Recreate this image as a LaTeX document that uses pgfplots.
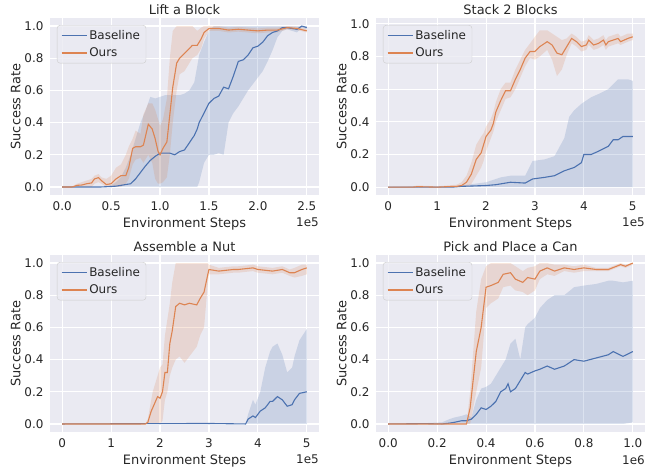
\documentclass[border=0pt]{standalone}
\usepackage{fontspec}
\setmainfont{DejaVu Sans}
\usepackage{pgfplots}
\usepackage{pgfplotstable}
\pgfplotsset{compat=1.18}
\usepgfplotslibrary{fillbetween}

\definecolor{sblue}{HTML}{4C72B0}
\definecolor{sorange}{HTML}{DD8452}
\definecolor{bg}{HTML}{EAEAF2}
\definecolor{txt}{HTML}{262626}

\newcommand{\tickfont}{\fontsize{12}{14}\selectfont}
\newcommand{\labfont}{\fontsize{13}{15}\selectfont}

% lift a block, x in 1e5 steps
\pgfplotstableread{
x m lo hi
0 0 0 0
0.1 0 0 0
0.2 0 0 0
0.3 0 0 0
0.4 0 0 0
0.5 0.003 0 0.01
0.55 0.005 0 0.03
0.6 0.01 0 0.06
0.65 0.015 0 0.12
0.7 0.02 0 0.2
0.75 0.05 0 0.3
0.8 0.09 0 0.4
0.85 0.13 0 0.47
0.9 0.165 0 0.56
0.95 0.19 0 0.55
1.0 0.21 0 0.56
1.05 0.21 0 0.57
1.1 0.21 0 0.57
1.15 0.20 0 0.57
1.2 0.22 0 0.57
1.25 0.23 0 0.58
1.3 0.275 0 0.6
1.35 0.32 0 0.65
1.38 0.36 0 0.75
1.4 0.40 0.03 0.82
1.45 0.46 0.15 0.9
1.5 0.52 0.2 0.97
1.55 0.55 0.2 1.0
1.6 0.565 0.21 1.0
1.65 0.62 0.2 1.0
1.7 0.61 0.4 1.0
1.75 0.69 0.46 1.0
1.8 0.78 0.5 1.0
1.85 0.79 0.55 1.0
1.9 0.82 0.6 1.0
1.95 0.865 0.64 1.0
2.0 0.875 0.68 1.0
2.05 0.90 0.72 1.0
2.1 0.94 0.78 1.0
2.15 0.96 0.85 1.0
2.2 0.97 0.93 1.0
2.25 0.99 0.97 1.0
2.3 0.99 0.98 1.0
2.35 0.985 0.97 1.0
2.4 0.98 0.96 1.0
2.45 1.0 0.99 1.0
2.5 0.99 0.98 1.0
}\liftb
\pgfplotstableread{
x m lo hi
0 0 0 0
0.1 0 0 0
0.12 0.003 0 0.01
0.15 0.01 0 0.02
0.2 0.012 0 0.03
0.25 0.02 0 0.04
0.3 0.025 0 0.05
0.33 0.05 0.02 0.07
0.37 0.058 0.03 0.08
0.4 0.04 0.02 0.06
0.45 0.015 0 0.05
0.5 0.02 0 0.07
0.55 0.05 0 0.12
0.6 0.07 0 0.14
0.65 0.07 0.02 0.2
0.68 0.12 0.05 0.25
0.72 0.24 0.14 0.3
0.75 0.25 0.17 0.35
0.8 0.25 0.18 0.33
0.83 0.26 0.15 0.45
0.88 0.39 0.2 0.52
0.92 0.36 0.15 0.52
0.95 0.30 0.05 0.48
0.98 0.22 0.02 0.42
1.0 0.20 0.02 0.38
1.03 0.24 0.03 0.42
1.07 0.28 0.06 0.55
1.1 0.45 0.2 0.8
1.13 0.62 0.4 0.97
1.17 0.77 0.6 1.0
1.2 0.80 0.7 1.0
1.25 0.83 0.72 1.0
1.3 0.86 0.77 1.0
1.33 0.88 0.8 1.0
1.38 0.88 0.82 0.97
1.42 0.92 0.86 0.99
1.45 0.96 0.92 1.0
1.5 0.985 0.97 1.0
1.6 0.985 0.97 1.0
1.7 0.975 0.96 0.99
1.8 0.98 0.965 0.995
1.9 0.975 0.96 0.99
2.0 0.97 0.955 0.985
2.1 0.975 0.96 0.99
2.2 0.975 0.96 0.99
2.3 0.99 0.98 1.0
2.4 0.985 0.975 0.995
2.5 0.97 0.96 0.98
}\lifto

% stack 2 blocks, x in 1e5 steps
\pgfplotstableread{
x m lo hi
0 0 0 0
1.3 0 0 0
1.5 0.005 0 0.01
2.0 0.01 0 0.03
2.2 0.015 0 0.05
2.3 0.02 0 0.06
2.5 0.03 0 0.07
2.8 0.025 0 0.07
2.95 0.05 0 0.16
3.2 0.06 0 0.17
3.4 0.07 0 0.19
3.6 0.10 0 0.3
3.7 0.11 0 0.43
3.8 0.12 0 0.47
3.95 0.15 0 0.51
4.0 0.20 0 0.52
4.15 0.20 0 0.55
4.3 0.22 0 0.57
4.5 0.25 0 0.6
4.6 0.29 0 0.63
4.7 0.29 0 0.66
4.8 0.31 0 0.66
4.9 0.31 0 0.66
5.0 0.31 0 0.65
}\stackb
\pgfplotstableread{
x m lo hi
0 0 0 0
0.5 0 0 0.005
0.6 0.003 0 0.01
1.0 0 0 0.005
1.2 0.003 0 0.01
1.4 0.005 0 0.015
1.5 0.01 0 0.03
1.6 0.03 0 0.07
1.7 0.08 0.02 0.15
1.8 0.17 0.07 0.26
1.9 0.21 0.12 0.31
1.95 0.26 0.16 0.33
2.0 0.31 0.22 0.37
2.1 0.35 0.3 0.42
2.15 0.39 0.34 0.46
2.2 0.46 0.4 0.52
2.3 0.53 0.47 0.6
2.4 0.59 0.54 0.64
2.5 0.59 0.55 0.64
2.6 0.66 0.6 0.72
2.7 0.72 0.67 0.78
2.8 0.79 0.74 0.84
2.9 0.83 0.79 0.88
3.0 0.83 0.78 0.92
3.1 0.86 0.8 0.96
3.25 0.89 0.84 0.96
3.35 0.87 0.78 0.94
3.45 0.82 0.68 0.92
3.55 0.81 0.72 0.9
3.65 0.86 0.81 0.91
3.75 0.91 0.88 0.94
3.85 0.89 0.86 0.92
3.95 0.86 0.83 0.89
4.05 0.87 0.84 0.9
4.1 0.90 0.87 0.93
4.2 0.87 0.84 0.9
4.3 0.88 0.85 0.91
4.4 0.90 0.87 0.93
4.45 0.87 0.84 0.9
4.5 0.89 0.86 0.92
4.6 0.90 0.87 0.93
4.7 0.91 0.88 0.94
4.75 0.89 0.87 0.92
4.9 0.91 0.89 0.94
5.0 0.92 0.9 0.94
}\stacko

% assemble a nut, x in 1e5 steps
\pgfplotstableread{
x m lo hi
0 0 0 0
3.0 0.003 0 0.005
3.75 0 0 0
3.8 0.03 0 0.06
3.9 0.05 0 0.15
3.95 0.04 0 0.12
4.05 0.08 0 0.2
4.15 0.1 0 0.35
4.25 0.14 0 0.45
4.3 0.14 0 0.48
4.4 0.17 0 0.5
4.5 0.15 0 0.43
4.6 0.11 0 0.32
4.7 0.12 0 0.35
4.75 0.15 0 0.42
4.85 0.19 0 0.52
5.0 0.2 0 0.59
}\nutb
\pgfplotstableread{
x m lo hi
0 0 0 0
1.7 0 0 0
1.75 0.01 0 0.03
1.82 0.08 0 0.15
1.85 0.1 0 0.2
1.95 0.17 0 0.3
2.0 0.16 0 0.35
2.05 0.2 0.02 0.37
2.1 0.32 0.15 0.55
2.15 0.32 0.2 0.65
2.2 0.5 0.3 0.75
2.25 0.58 0.35 0.88
2.32 0.73 0.4 1.0
2.4 0.75 0.42 1.0
2.5 0.74 0.38 1.0
2.6 0.75 0.42 1.0
2.75 0.74 0.48 1.0
2.82 0.78 0.55 1.0
2.9 0.82 0.6 1.0
2.97 0.92 0.85 1.0
3.0 0.96 0.93 0.99
3.2 0.95 0.93 0.97
3.5 0.96 0.94 0.98
3.6 0.96 0.94 0.98
3.9 0.97 0.95 0.99
4.0 0.96 0.94 0.98
4.3 0.95 0.93 0.97
4.5 0.96 0.94 0.98
4.65 0.94 0.92 0.96
4.75 0.94 0.91 0.97
4.9 0.96 0.92 0.99
5.0 0.97 0.93 0.99
}\nuto

% pick and place a can, x in 1e6 steps
\pgfplotstableread{
x m lo hi
0 0 0 0
0.15 0.002 0 0.005
0.22 0 0 0.01
0.25 0.005 0 0.03
0.27 0.01 0 0.04
0.3 0.02 0 0.05
0.32 0.02 0 0.06
0.34 0.03 0 0.04
0.36 0.06 0 0.15
0.38 0.1 0 0.22
0.4 0.09 0 0.23
0.42 0.11 0 0.25
0.44 0.14 0 0.3
0.46 0.2 0 0.35
0.48 0.22 0 0.4
0.49 0.25 0 0.45
0.5 0.2 0 0.5
0.52 0.22 0 0.53
0.54 0.27 0 0.4
0.56 0.32 0 0.6
0.57 0.31 0 0.62
0.6 0.33 0 0.66
0.62 0.34 0 0.72
0.65 0.36 0 0.77
0.68 0.34 0 0.8
0.72 0.36 0 0.8
0.76 0.4 0 0.85
0.8 0.39 0 0.86
0.85 0.41 0 0.87
0.9 0.43 0 0.89
0.92 0.45 0 0.89
0.96 0.42 0 0.88
1.0 0.45 0.01 0.89
}\canb
\pgfplotstableread{
x m lo hi
0 0 0 0
0.32 0 0 0
0.335 0.1 0 0.2
0.36 0.45 0.2 0.7
0.38 0.6 0.35 0.9
0.40 0.85 0.72 0.98
0.42 0.86 0.75 1.0
0.45 0.88 0.78 1.0
0.47 0.93 0.85 1.0
0.5 0.94 0.86 1.0
0.52 0.9 0.83 0.98
0.55 0.88 0.82 0.95
0.57 0.91 0.8 0.97
0.6 0.9 0.83 0.98
0.62 0.95 0.9 1.0
0.65 0.97 0.93 1.0
0.68 0.95 0.92 0.99
0.72 0.97 0.95 0.99
0.76 0.96 0.94 0.98
0.8 0.97 0.95 0.99
0.85 0.96 0.95 0.97
0.9 0.96 0.95 0.97
0.95 0.99 0.98 1.0
0.97 0.98 0.97 0.99
1.0 1.0 0.99 1.0
}\cano

\pgfplotsset{
  sns/.style={
    scale only axis, width=269bp, height=177bp,
    axis background/.style={fill=bg},
    axis line style={draw=none},
    grid=major, major grid style={white, line width=1.1bp},
    major tick length=0pt,
    tick style={draw=none},
    tick label style={font=\tickfont, text=txt},
    xticklabel style={yshift=-3bp},
    yticklabel style={xshift=-3bp},
    label style={font=\labfont, text=txt},
    title style={font=\labfont, text=txt, yshift=-6bp},
    /pgf/number format/assume math mode=true,
    xlabel={Environment Steps}, ylabel={Success Rate},
    xlabel style={yshift=0bp},
    ylabel style={yshift=-3bp},
    ymin=-0.05, ymax=1.05, ytick={0,0.2,0.4,0.6,0.8,1},
    yticklabel style={/pgf/number format/.cd, fixed, fixed zerofill, precision=1},
    legend cell align=left,
    legend image code/.code={\draw[##1] (0bp,0bp) -- (25bp,0bp);},
    legend style={at={(0.026,0.96)}, anchor=north west,
      fill=bg, fill opacity=0.8, text opacity=1, draw=white!80!black,
      rounded corners=3bp, font=\tickfont, text=txt,
      inner xsep=4bp, inner ysep=3bp, row sep=3bp},
  },
}

\newcommand{\band}[3]{%
  \addplot[name path=#3u, draw=none, forget plot] table[x=x, y=hi] {#1};
  \addplot[name path=#3l, draw=none, forget plot] table[x=x, y=lo] {#1};
  \addplot[fill=#2, fill opacity=0.2, draw=none, forget plot] fill between[of=#3u and #3l];
  \addplot[#2, line width=1.1bp] table[x=x, y=m] {#1};
}

\begin{document}
\begin{tikzpicture}[font=\tickfont]

\begin{axis}[sns, name=a1, at={(50bp,-18bp)}, anchor=north west,
  title={Lift a Block},
  xmin=-0.125, xmax=2.625, xtick={0,0.5,1,1.5,2,2.5},
  xticklabel style={/pgf/number format/.cd, fixed, fixed zerofill, precision=1}]
\band{\liftb}{sblue}{pa}
\band{\lifto}{sorange}{pb}
\legend{Baseline, Ours}
\end{axis}
\node[anchor=north east, inner sep=0pt, font=\tickfont, text=txt] at ([yshift=-23bp]a1.south east) {1e5};

\begin{axis}[sns, name=a2, at={(376bp,-18bp)}, anchor=north west,
  title={Stack 2 Blocks},
  ymin=-0.048, ymax=1.035,
  xmin=-0.25, xmax=5.25, xtick={0,1,2,3,4,5}]
\band{\stackb}{sblue}{pc}
\band{\stacko}{sorange}{pd}
\legend{Baseline, Ours}
\end{axis}
\node[anchor=north east, inner sep=0pt, font=\tickfont, text=txt] at ([yshift=-23bp]a2.south east) {1e5};

\begin{axis}[sns, name=a3, at={(50bp,-255bp)}, anchor=north west,
  title={Assemble a Nut},
  xmin=-0.25, xmax=5.25, xtick={0,1,2,3,4,5}]
\band{\nutb}{sblue}{pe}
\band{\nuto}{sorange}{pf}
\legend{Baseline, Ours}
\end{axis}
\node[anchor=north east, inner sep=0pt, font=\tickfont, text=txt] at ([yshift=-23bp]a3.south east) {1e5};

\begin{axis}[sns, name=a4, at={(376bp,-255bp)}, anchor=north west,
  title={Pick and Place a Can},
  xmin=-0.05, xmax=1.05, xtick={0,0.2,0.4,0.6,0.8,1},
  xticklabel style={/pgf/number format/.cd, fixed, fixed zerofill, precision=1}]
\band{\canb}{sblue}{pg}
\band{\cano}{sorange}{ph}
\legend{Baseline, Ours}
\end{axis}
\node[anchor=north east, inner sep=0pt, font=\tickfont, text=txt] at ([yshift=-23bp]a4.south east) {1e6};

\pgfresetboundingbox
\useasboundingbox (0,0) rectangle (647bp,-472bp);
\end{tikzpicture}
\end{document}
